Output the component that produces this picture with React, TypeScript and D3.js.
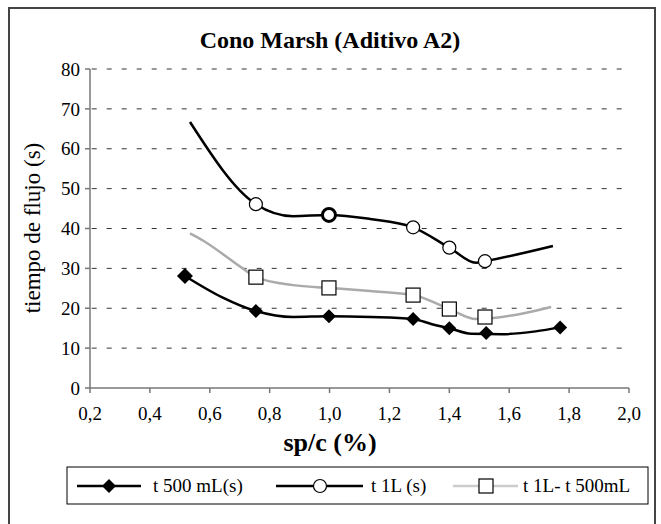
import React from "react";
import * as d3 from "d3";

const W = 661;
const H = 524;

const title = "Cono Marsh (Aditivo A2)";
const yTitle = "tiempo de flujo (s)";
const xTitle = "sp/c (%)";

const xTicks = [0.2, 0.4, 0.6, 0.8, 1.0, 1.2, 1.4, 1.6, 1.8, 2.0];
const yTicks = [0, 10, 20, 30, 40, 50, 60, 70, 80];

// t 500 mL(s)
const s1LineX = [0.517, 0.64, 0.754, 0.878, 0.998, 1.14, 1.279, 1.342, 1.4, 1.473, 1.576, 1.688, 1.77];
const s1LineY = [28.1, 22.8, 19.3, 17.8, 18.0, 17.8, 17.3, 16.0, 15.0, 13.6, 13.5, 14.2, 15.2];
const s1MarkX = [0.517, 0.754, 0.998, 1.279, 1.4, 1.523, 1.77];
const s1MarkY = [28.1, 19.3, 18.0, 17.3, 15.0, 13.8, 15.2];

// t 1L (s)
const s2LineX = [0.534, 0.754, 0.878, 0.998, 1.135, 1.279, 1.4, 1.489, 1.519, 1.746];
const s2LineY = [66.7, 46.1, 43.1, 43.4, 42.4, 40.3, 35.2, 31.4, 31.8, 35.6];
const s2MarkX = [0.754, 0.998, 1.279, 1.4, 1.519];
const s2MarkY = [46.1, 43.4, 40.3, 35.2, 31.8];

// t 1L- t 500mL
const s3LineX = [0.534, 0.577, 0.71, 0.754, 0.878, 0.998, 1.135, 1.279, 1.4, 1.489, 1.633, 1.74];
const s3LineY = [38.8, 37.0, 30.0, 27.8, 25.8, 25.1, 24.3, 23.3, 19.8, 17.3, 18.5, 20.3];
const s3MarkX = [0.754, 0.998, 1.279, 1.4, 1.519];
const s3MarkY = [27.8, 25.1, 23.3, 19.8, 17.8];

const legendLabels = ["t 500 mL(s)", "t 1L (s)", "t 1L- t 500mL"];

const FONT = "Liberation Serif, Tinos, Times New Roman, DejaVu Serif, serif";

export default function App() {
  const x = d3.scaleLinear().domain([0.2, 2.0]).range([90, 629]);
  const y = d3.scaleLinear().domain([0, 80]).range([388, 69]);

  const line = d3
    .line<[number, number]>()
    .x((d) => x(d[0]))
    .y((d) => y(d[1]))
    .curve(d3.curveMonotoneX);

  const zip = (a: number[], b: number[]) => a.map((v, i) => [v, b[i]] as [number, number]);
  const fmt = (v: number) => d3.format(".1f")(v).replace(".", ",");

  const diamond = (cx: number, cy: number, r: number) =>
    `M${cx},${cy - r}L${cx + r},${cy}L${cx},${cy + r}L${cx - r},${cy}Z`;

  const legY = 486;
  const ts = { fontFamily: FONT } as React.CSSProperties;

  return (
    <svg width={W} height={H} style={{ position: "absolute", left: 0, top: 0, background: "#fff", fontFamily: FONT }}>
      <rect x={0} y={0} width={W} height={H} fill="#fff" />
      <rect x={9} y={8} width={646} height={540} fill="none" stroke="#444" strokeWidth={2} />

      <text x={330} y={48} textAnchor="middle" fontSize={24} fontWeight="bold" style={ts}>
        {title}
      </text>

      {/* gridlines */}
      {yTicks.filter((t) => t > 0).map((t) => (
        <line key={"g" + t} x1={91.7} x2={629} y1={y(t)} y2={y(t)} stroke="#333" strokeWidth={1} strokeDasharray="5,10" />
      ))}

      {/* axes */}
      <line x1={90} x2={90} y1={y(80)} y2={y(0)} stroke="#777" strokeWidth={1.5} />
      <line x1={90} x2={629} y1={y(0)} y2={y(0)} stroke="#777" strokeWidth={1.5} />
      {yTicks.map((t) => (
        <g key={"yt" + t}>
          <line x1={85} x2={90} y1={y(t)} y2={y(t)} stroke="#777" strokeWidth={1.5} />
          <text x={80} y={y(t)} dy="0.35em" textAnchor="end" fontSize={19} style={ts}>
            {t}
          </text>
        </g>
      ))}
      {xTicks.map((t) => (
        <g key={"xt" + t}>
          <line x1={x(t)} x2={x(t)} y1={y(0)} y2={y(0) + 5} stroke="#777" strokeWidth={1.5} />
          <text x={x(t)} y={420} textAnchor="middle" fontSize={19} style={ts}>
            {fmt(t)}
          </text>
        </g>
      ))}

      <text transform={`translate(32,228) rotate(-90)`} textAnchor="middle" fontSize={23} dy="0.35em" style={ts}>
        {yTitle}
      </text>
      <text x={330} y={451} textAnchor="middle" fontSize={26} fontWeight="bold" style={ts}>
        {xTitle}
      </text>

      {/* series lines */}
      <path d={line(zip(s3LineX, s3LineY)) || ""} fill="none" stroke="#aaa" strokeWidth={2.5} />
      <path d={line(zip(s2LineX, s2LineY)) || ""} fill="none" stroke="#000" strokeWidth={2.5} />
      <path d={line(zip(s1LineX, s1LineY)) || ""} fill="none" stroke="#000" strokeWidth={2.5} />

      {/* markers */}
      {s1MarkX.map((v, i) => (
        <path key={"m1" + i} d={diamond(x(v), y(s1MarkY[i]), i === 0 ? 8 : 7)} fill="#000" />
      ))}
      {s2MarkX.map((v, i) => (
        <circle key={"m2" + i} cx={x(v)} cy={y(s2MarkY[i])} r={6.5} fill="#fff" stroke="#000" strokeWidth={i === 1 ? 3 : 1.2} />
      ))}
      {s3MarkX.map((v, i) => (
        <rect key={"m3" + i} x={x(v) - 7} y={y(s3MarkY[i]) - 7} width={14} height={14} fill="#fff" stroke="#000" strokeWidth={1.2} />
      ))}

      {/* legend */}
      <rect x={67} y={467} width={581} height={37} fill="#fff" stroke="#000" strokeWidth={1} />
      <line x1={77} x2={141} y1={legY} y2={legY} stroke="#000" strokeWidth={2.5} />
      <path d={diamond(109, legY, 7)} fill="#000" />
      <text x={153} y={legY} dy="0.3em" fontSize={19} style={ts}>{legendLabels[0]}</text>

      <line x1={276} x2={363} y1={legY} y2={legY} stroke="#000" strokeWidth={2.5} />
      <circle cx={320} cy={legY} r={6.5} fill="#fff" stroke="#000" strokeWidth={1.2} />
      <text x={371} y={legY} dy="0.3em" fontSize={19} style={ts}>{legendLabels[1]}</text>

      <line x1={453} x2={518} y1={legY} y2={legY} stroke="#ccc" strokeWidth={2.5} />
      <rect x={486 - 7} y={legY - 7} width={14} height={14} fill="#fff" stroke="#000" strokeWidth={1.2} />
      <text x={523} y={legY} dy="0.3em" fontSize={19} style={ts}>{legendLabels[2]}</text>
    </svg>
  );
}
